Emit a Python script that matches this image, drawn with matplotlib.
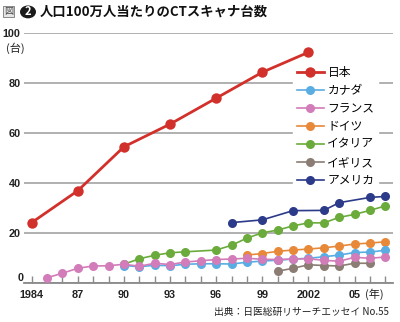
import matplotlib
matplotlib.use("Agg")
import numpy as np
import matplotlib.pyplot as plt
import matplotlib.transforms as mtransforms
from matplotlib.font_manager import FontProperties
from matplotlib.patches import Circle, Rectangle

plt.rcParams['font.family'] = ['Noto Sans CJK JP', 'DejaVu Sans']

# CT scanners per million population, by country
japan_years = [1984, 1987, 1990, 1993, 1996, 1999, 2002]
japan = [24.1, 36.9, 54.5, 63.6, 74.0, 84.4, 92.4]

canada_years = list(range(1990, 2008))
canada = [6.9, 6.4, 7.0, 6.8, 7.4, 7.6, 7.6, 7.5, 8.2, 8.7, 9.0, 9.5, 9.8, 10.4, 11.1, 12.1, 12.3, 13.0]

france_years = list(range(1985, 2008))
france = [2.0, 3.8, 5.8, 6.7, 6.8, 7.4, 6.6, 7.8, 7.3, 8.3, 8.8, 9.3, 9.5, 9.8, 9.4,
          9.3, 9.5, 9.6, 9.0, 8.6, 10.2, 9.8, 10.3]

germany_years = list(range(1998, 2008))
germany = [11.1, 11.7, 12.6, 13.1, 13.5, 14.0, 14.7, 15.5, 15.9, 16.4]

italy_years = [1990, 1991, 1992, 1993, 1994, 1996, 1997, 1998, 1999,
               2000, 2001, 2002, 2003, 2004, 2005, 2006, 2007]
italy = [7.4, 9.6, 11.0, 12.0, 12.4, 13.1, 15.0, 17.9, 20.0,
         21.1, 22.8, 24.0, 24.0, 26.2, 27.4, 29.0, 30.8]

uk_years = list(range(2000, 2007))
uk = [4.6, 5.8, 7.2, 6.9, 6.7, 7.8, 7.8]

usa_years = [1997, 1999, 2001, 2003, 2004, 2006, 2007]
usa = [24.1, 25.2, 28.9, 29.0, 32.1, 34.2, 34.6]

series = [
    ("日本", japan_years, japan, "#d2302a", 7.5, 2.0, 10),
    ("カナダ", canada_years, canada, "#5aade3", 6.5, 1.2, 4),
    ("フランス", france_years, france, "#d27cb9", 6.5, 1.2, 5),
    ("ドイツ", germany_years, germany, "#e8893a", 6.5, 1.2, 3),
    ("イタリア", italy_years, italy, "#6aab3b", 6.5, 1.2, 2),
    ("イギリス", uk_years, uk, "#8b7d74", 6.5, 1.2, 3),
    ("アメリカ", usa_years, usa, "#2c3a8a", 6.5, 1.2, 2),
]

year_ticks = [1984, 1987, 1990, 1993, 1996, 1999, 2002, 2005]
year_labels = ["1984", "87", "90", "93", "96", "99", "2002", "05"]

fig = plt.figure(figsize=(4.0, 3.22), dpi=100)
ax = fig.add_axes([0.06, 0.122, 0.9225, 0.7745])

handles = []
for name, yrs, vals, col, ms, lw, z in series:
    h, = ax.plot(yrs, vals, color=col, lw=lw, marker='o', ms=ms,
                 markeredgewidth=0, zorder=z, clip_on=False, label=name)
    handles.append(h)

ax.set_xlim(1983.5, 2007.5)
ax.set_ylim(0, 100)

for s in ['top', 'right', 'left']:
    ax.spines[s].set_visible(False)
ax.spines['bottom'].set_color('#8a8a8a')
ax.spines['bottom'].set_linewidth(1.3)

ax.set_yticks([0, 20, 40, 60, 80, 100])
ax.yaxis.grid(True, color='#a3a3a3', lw=1.2)
ax.set_axisbelow(True)
ax.tick_params(axis='y', length=0, pad=2.5)

num_font = FontProperties(family=['Liberation Sans', 'DejaVu Sans'], weight='bold', size=7.8)
for lab in ax.get_yticklabels():
    lab.set_fontproperties(num_font)
    lab.set_color('#222222')
ax.get_yticklabels()[0].set_transform(
    ax.get_yaxis_transform(which='tick1') +
    mtransforms.ScaledTranslation(0, 4 / 72, fig.dpi_scale_trans))

ax.set_xticks(year_ticks)
ax.set_xticklabels(year_labels)
ax.set_xticks(range(1984, 2008), minor=True)
ax.tick_params(axis='x', which='both', direction='in', length=5, width=1.0,
               color='#8a8a8a', pad=5.5)
for lab in ax.get_xticklabels():
    lab.set_fontproperties(num_font)
    lab.set_color('#222222')

ax.text(2005.65, -4.6, "(年)", transform=ax.transData, ha='left', va='center',
        fontsize=8, color='#222222')
fig.text(0.015, 0.851, "(台)", ha='left', va='center', fontsize=8, color='#222222')

leg = ax.legend(handles=handles, loc='upper left', bbox_to_anchor=(0.733, 0.806),
                bbox_transform=fig.transFigure, frameon=True, fancybox=False,
                edgecolor='white', facecolor='white', framealpha=1,
                fontsize=8.5, handlelength=2.3, handletextpad=0.3,
                labelspacing=0.42, borderpad=0.3, borderaxespad=0)
leg.set_zorder(8)

# heading: small boxed label, numbered circle, title
fig.patches.append(Rectangle((0.008, 0.948), 0.028, 0.034, transform=fig.transFigure,
                             facecolor='#e6e6e6', edgecolor='#777777', lw=0.6))
fig.text(0.022, 0.965, "図", ha='center', va='center', fontsize=6.5, color='#444444')
fig.patches.append(Circle((0.07, 0.963), 0.02, transform=fig.transFigure,
                          facecolor='#1a1a1a', edgecolor='none'))
fig.text(0.07, 0.963, "2", ha='center', va='center', fontsize=8, color='white', weight='bold')
fig.text(0.1, 0.963, "人口100万人当たりのCTスキャナ台数", ha='left', va='center',
         fontsize=9.6, weight='bold', color='#111111')

fig.text(0.972, 0.03, "出典：日医総研リサーチエッセイ No.55", ha='right', va='center',
         fontsize=7, color='#222222')

fig.savefig("out.png", dpi=100)
